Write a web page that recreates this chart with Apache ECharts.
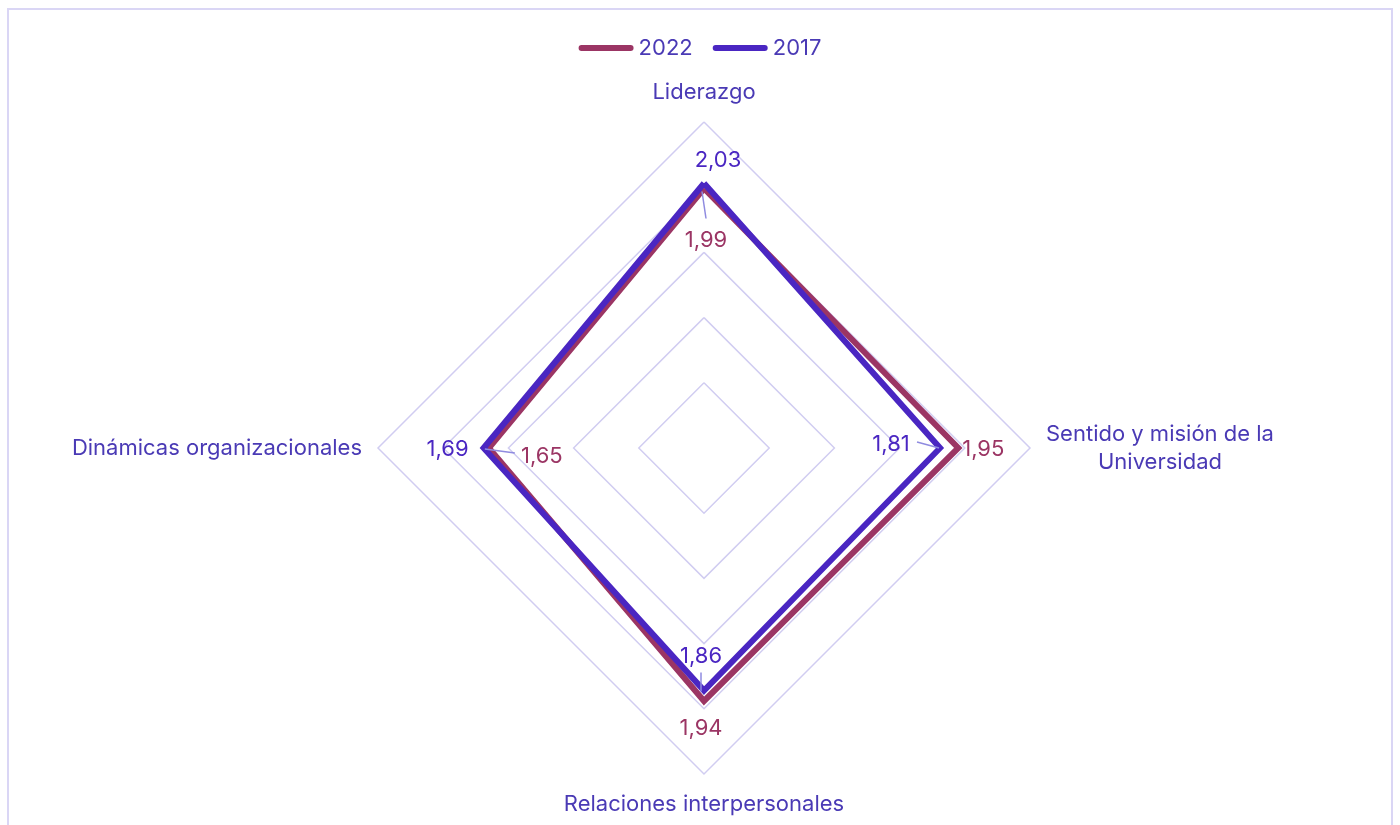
<!DOCTYPE html>
<html>
<head>
<meta charset="utf-8">
<script src="https://cdn.jsdelivr.net/npm/echarts@6/dist/echarts.min.js"></script>
<style>
  html, body { margin: 0; padding: 0; background: #fff; overflow: hidden; }
  #chart { position: absolute; left: 0; top: 0; width: 1400px; height: 825px; }
  #frame { position: absolute; left: 7px; top: 8px; width: 1386px; height: 900px;
           border: 2px solid #DAD6F5; box-sizing: border-box; pointer-events: none; }
</style>
</head>
<body>
<div id="chart"></div>
<div id="frame"></div>
<script>
// Dimensions of the climate survey, in radar order
const categories = ['Liderazgo', 'Dinámicas organizacionales', 'Relaciones interpersonales', 'Sentido y misión de la\nUniversidad'];
const seriesNames = ['2022', '2017'];
const values2022 = [1.99, 1.65, 1.94, 1.95];
const values2017 = [2.03, 1.69, 1.86, 1.81];
const scaleMax = 2.5;

const COLORS = { '2022': '#9B3564', '2017': '#4A26C2' };
const TEXT = '#4A3AB5';
const FONT = 'Inter, Roboto, sans-serif';
const FS = 22;

// Label placement around each point: [dx, dy] of the text centre, optional leader [x1,y1,x2,y2]
const labelLayout = {
  '2022': [
    { d: [2, 52], leader: [-2, 3, 2, 30] },
    { d: [53, 8], leader: [-4, 1, 26, 5] },
    { d: [-3, 27] },
    { d: [25, 1] }
  ],
  '2017': [
    { d: [14, -23] },
    { d: [-36, 1] },
    { d: [-3, -34], leader: [-3, -18, -3, 1] },
    { d: [-49, -4], leader: [-23, -6, -1, 0] }
  ]
};

const fmt = v => v.toFixed(2).replace('.', ',');

const chart = echarts.init(document.getElementById('chart'), null, { renderer: 'canvas' });

const pill = 'path://M3,0 H52 A3,3 0 0 1 52,6 H3 A3,3 0 0 1 3,0 Z';

chart.setOption({
  animation: false,
  legend: {
    data: seriesNames,
    top: 32,
    left: 'center',
    itemWidth: 55,
    itemHeight: 7,
    itemGap: 20,
    icon: pill,
    textStyle: { color: TEXT, fontSize: FS, fontFamily: FONT }
  },
  radar: {
    center: [704, 448],
    radius: 326,
    startAngle: 90,
    shape: 'polygon',
    splitNumber: 5,
    nameGap: 16,
    indicator: categories.map(n => ({ name: n, min: 0, max: scaleMax })),
    axisName: {
      color: TEXT,
      fontSize: FS,
      fontFamily: FONT,
      formatter: function (name) {
        return name.split('\n').map(l => '{c|' + l + '}').join('\n');
      },
      rich: { c: { color: TEXT, fontSize: FS, fontFamily: FONT, align: 'center', lineHeight: 28 } }
    },
    axisLine: { show: false },
    axisTick: { show: false },
    axisLabel: { show: false },
    splitArea: { show: false },
    splitLine: { lineStyle: { color: '#D1CDF1', width: 1.5 } }
  },
  series: [{
    type: 'radar',
    symbol: 'none',
    data: [
      { name: '2022', value: values2022,
        lineStyle: { color: COLORS['2022'], width: 6, join: 'miter' },
        itemStyle: { color: COLORS['2022'] } },
      { name: '2017', value: values2017,
        lineStyle: { color: COLORS['2017'], width: 6, join: 'miter' },
        itemStyle: { color: COLORS['2017'] } }
    ]
  }]
});

// Value labels and their leader lines, placed from the radar's own scale
const radar = chart.getModel().getComponent('radar', 0).coordinateSystem;
const graphics = [];
[['2022', values2022], ['2017', values2017]].forEach(([name, vals]) => {
  vals.forEach((v, i) => {
    const p = radar.dataToPoint(v, i);
    const lay = labelLayout[name][i];
    if (lay.leader) {
      const l = lay.leader;
      graphics.push({
        type: 'line', z: 5,
        shape: { x1: p[0] + l[0], y1: p[1] + l[1], x2: p[0] + l[2], y2: p[1] + l[3] },
        style: { stroke: '#8F8BE0', lineWidth: 1.5 }
      });
    }
    graphics.push({
      type: 'text', z: 6,
      x: p[0] + lay.d[0], y: p[1] + lay.d[1],
      style: {
        text: fmt(v), fill: COLORS[name], fontSize: FS, fontFamily: FONT,
        align: 'center', verticalAlign: 'middle'
      }
    });
  });
});
chart.setOption({ graphic: graphics });
</script>
</body>
</html>
